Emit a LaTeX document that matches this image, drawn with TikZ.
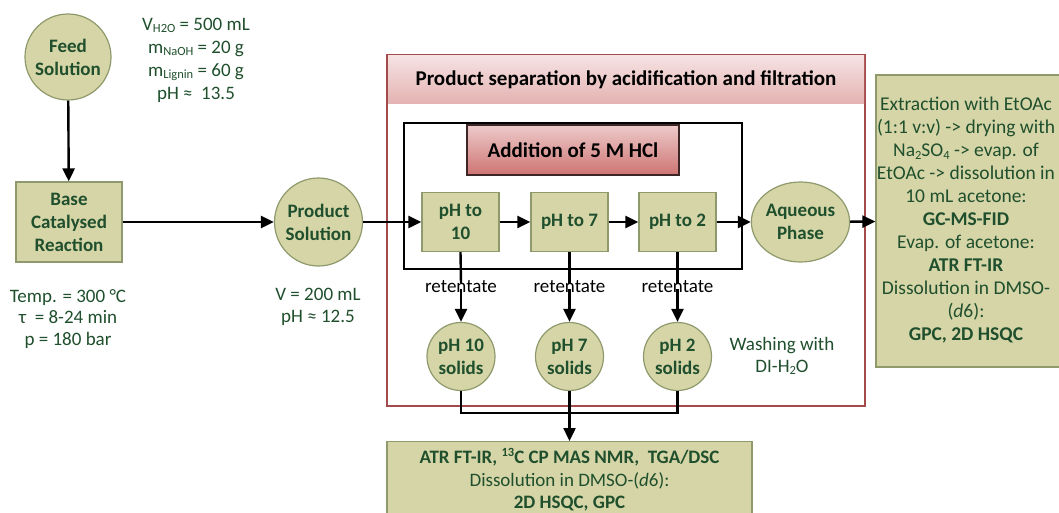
\documentclass[tikz,border=0pt]{standalone}
\usepackage{fontspec}
\setmainfont{Carlito}
\usetikzlibrary{arrows.meta,shapes.geometric}
\definecolor{nfill}{HTML}{D6D5A8}
\definecolor{nborder}{HTML}{8E9A6B}
\definecolor{tgreen}{HTML}{1F4F2C}
\definecolor{redb}{HTML}{A54A4A}
\definecolor{hdrtop}{HTML}{F6E2E2}
\definecolor{hdrbot}{HTML}{E3B2B1}
\definecolor{hcltop}{HTML}{EDCACA}
\definecolor{hclbot}{HTML}{CD7472}
\definecolor{hclborder}{HTML}{3C2626}
\newcommand\mysub[1]{\raisebox{-0.28ex}{\fontsize{12.5}{12.5}\selectfont #1}}
\newcommand\mysup[1]{\raisebox{0.75ex}{\fontsize{12.5}{12.5}\selectfont #1}}
\begin{document}
\begin{tikzpicture}[x=1pt,y=-1pt,
  bfnt/.style={font=\bfseries\fontsize{19}{23}\selectfont},
  rfnt/.style={font=\fontsize{19}{21.7}\selectfont},
  circ/.style={circle,draw=nborder,fill=nfill,line width=1.2pt,text=tgreen,bfnt,align=center,inner sep=0pt},
  box/.style={rectangle,draw=nborder,fill=nfill,line width=1.2pt,text=tgreen,bfnt,align=center,inner sep=0pt},
  param/.style={text=tgreen,rfnt,align=center,inner sep=0pt},
  conn/.style={line width=2.4pt,black},
  arr/.style={conn,-{Triangle[length=13pt,width=12pt]}},
]
\useasboundingbox (0,0) rectangle (1059,513);
\clip (0,0) rectangle (1059,513);

% separation frame
\node[draw=redb, line width=2.2pt, minimum width=478, minimum height=351, inner sep=0pt] (sep) at (626,230.5) {};
\node[top color=hdrtop, bottom color=hdrbot, minimum width=476, minimum height=48, inner sep=0pt,
      font=\bfseries\fontsize{21}{25}\selectfont] (hdr) at (626,80) {Product separation by acidification and filtration};
\node[draw=black, line width=2.2pt, minimum width=338, minimum height=146, inner sep=0pt] (acid) at (573,196) {};
\node[top color=hcltop, bottom color=hclbot, draw=hclborder, line width=1.5pt, minimum width=212, minimum height=50, inner sep=0pt,
      font=\bfseries\fontsize{21}{25}\selectfont] (hcl) at (573,150) {Addition of 5 M HCl};

% main nodes
\node[circ, minimum size=86] (feed) at (68,57) {Feed\\Solution};
\node[box, minimum width=106, minimum height=80] (base) at (69,222) {Base\\Catalysed\\Reaction};
\node[circ, minimum size=88] (prod) at (318.5,222) {Product\\Solution};
\node[box, minimum width=77, minimum height=59] (ph10) at (460.5,222) {pH to\\10};
\node[box, minimum width=77, minimum height=59] (ph7) at (569.5,222) {pH to 7};
\node[box, minimum width=77, minimum height=59] (ph2) at (677.5,222) {pH to 2};
\node[ellipse, draw=nborder, fill=nfill, line width=1.2pt, text=tgreen, bfnt, align=center, inner sep=0pt,
      minimum width=95, minimum height=80] (aq) at (800.5,222) {Aqueous\\Phase};
\node[rectangle, draw=nborder, fill=nfill, line width=1.2pt, minimum width=184, minimum height=292, inner sep=0pt] (ext) at (968,221) {};
\node[text=tgreen, align=center, inner sep=0pt, font=\fontsize{19.5}{23}\selectfont] (exttxt) at (966,220.5)
  {Extraction with EtOAc\\(1:1 v:v) -> drying with\\Na\mysub{2}SO\mysub{4} -> evap. of\\EtOAc -> dissolution in\\10 mL acetone:\\\textbf{GC-MS-FID}\\Evap. of acetone:\\\textbf{ATR FT-IR}\\Dissolution in DMSO-\\(\textit{d}6):\\\textbf{GPC, 2D HSQC}};

% retentate labels and solids
\node[rfnt, inner sep=0pt] (r10) at (461,287) {retentate};
\node[rfnt, inner sep=0pt] (r7) at (569.5,287) {retentate};
\node[rfnt, inner sep=0pt] (r2) at (677.5,287) {retentate};
\node[circ, minimum size=68] (s10) at (461,356.5) {pH 10\\solids};
\node[circ, minimum size=68] (s7) at (569.5,356.5) {pH 7\\solids};
\node[circ, minimum size=68] (s2) at (677.5,356.5) {pH 2\\solids};
\node[param] (wash) at (782,356) {Washing with\\DI-H\mysub{2}O};

% bottom results box
\node[rectangle, draw=nborder, fill=nfill, line width=1.2pt, minimum width=365, minimum height=100, inner sep=0pt, anchor=north] (res) at (569.5,441) {};
\node[text=tgreen, align=center, inner sep=0pt, font=\fontsize{19}{22.5}\selectfont] (restxt) at (569.5,480)
  {\textbf{ATR FT-IR, \mysup{13}C CP MAS NMR,\ \ TGA/DSC}\\Dissolution in DMSO-(\textit{d}6):\\\textbf{2D HSQC, GPC}};

% parameter texts
\node[param, font=\fontsize{19}{23}\selectfont] (feedpar) at (196,60) {V\mysub{H2O} = 500 mL\\m\mysub{NaOH} = 20 g\\m\mysub{Lignin} = 60 g\\pH ≈\ \ 13.5};
\node[param] (basepar) at (68,319) {Temp. = 300 °C\\τ\ \ = 8-24 min\\p = 180 bar};
\node[param] (prodpar) at (318,307) {V = 200 mL\\pH ≈ 12.5};

% connectors
\coordinate (join) at (569.5,413);
\draw[arr] (feed) -- (base);
\draw[arr] (base) -- (prod);
\draw[arr] (prod) -- (ph10);
\draw[arr] (ph10) -- (ph7);
\draw[arr] (ph7) -- (ph2);
\draw[arr] (ph2) -- (aq);
\draw[arr] (aq) -- (ext);
\draw[conn] (ph10.south) -- ([yshift=-3pt]r10.north);
\draw[conn] (ph7.south) -- ([yshift=-3pt]r7.north);
\draw[conn] (ph2.south) -- ([yshift=-3pt]r2.north);
\draw[arr] ([yshift=4pt]r10.south) -- (s10);
\draw[arr] ([yshift=4pt]r7.south) -- (s7);
\draw[arr] ([yshift=4pt]r2.south) -- (s2);
\draw[conn] (s10.south) |- (join);
\draw[conn] (s2.south) |- (join);
\draw[arr] (s7.south) -- (res.north);
\end{tikzpicture}
\end{document}
